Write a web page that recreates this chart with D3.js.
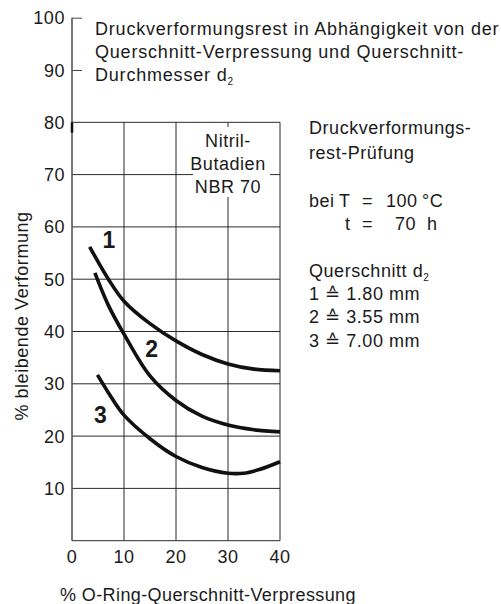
<!DOCTYPE html>
<html><head><meta charset="utf-8">
<script src="https://cdn.jsdelivr.net/npm/d3@7"></script>
<style>body{margin:0;background:#fff}svg{display:block}text{font-family:"Liberation Sans",Arial,sans-serif;fill:#1a1a1a;letter-spacing:0.55px}</style>
</head><body><svg id="c" width="501" height="604"></svg>
<script>
const xTicks = [0, 10, 20, 30, 40];
const yTicks = [10, 20, 30, 40, 50, 60, 70, 80, 90, 100];
const gridYMax = 80;
const curveNames = ["1", "2", "3"];
const curve1 = [[3.4,56.2],[7,50],[10,45.8],[15,41.5],[20,38.2],[25,35.6],[30,33.8],[35,32.8],[40,32.5]];
const curve2 = [[4.4,51.2],[7,45],[10,39.5],[15,31.5],[20,26.8],[25,23.8],[30,22.1],[35,21.2],[40,20.8]];
const curve3 = [[4.9,31.7],[7,28.3],[10,24],[15,19.5],[20,16.1],[25,14],[30,12.9],[33,12.9],[36,13.6],[40,15.1]];
const curveLabelPos = [[7.1,56],[15.3,35.1],[5.45,22.5]];
const titleLines = ["Druckverformungsrest in Abhängigkeit von der", "Querschnitt-Verpressung und Querschnitt-", "Durchmesser d"];
const materialLines = ["Nitril-", "Butadien", "NBR 70"];
const testLines = ["Druckverformungs-", "rest-Prüfung"];
const legendRows = [["1", "1.80 mm"], ["2", "3.55 mm"], ["3", "7.00 mm"]];
const xLabel = "% O-Ring-Querschnitt-Verpressung";
const yLabel = "% bleibende Verformung";

const FS = 18;
const svg = d3.select("#c");
const x = d3.scaleLinear().domain([0, 40]).range([72, 280]);
const y = d3.scaleLinear().domain([0, 100]).range([540.7, 17.7]);
const gridCol = "#2a2a2a";

// grid
const g = svg.append("g");
xTicks.slice(1).forEach(v => g.append("line").attr("x1", x(v)).attr("x2", x(v)).attr("y1", y(0)).attr("y2", y(gridYMax)).attr("stroke", gridCol).attr("stroke-width", 1));
yTicks.filter(v => v <= gridYMax).forEach(v => g.append("line").attr("x1", x(0)).attr("x2", x(40)).attr("y1", y(v)).attr("y2", y(v)).attr("stroke", gridCol).attr("stroke-width", 1));
g.append("line").attr("x1", x(0)).attr("x2", x(40)).attr("y1", y(0)).attr("y2", y(0)).attr("stroke", gridCol).attr("stroke-width", 1);

// y axis
const yAxis = d3.axisRight(y).tickValues(yTicks.filter(v => v > gridYMax)).tickSize(10).tickFormat("");
const ya = svg.append("g").attr("transform", `translate(${x(0)},0)`).call(yAxis);
ya.select(".domain").remove();
ya.selectAll(".tick line").attr("stroke", "#444").attr("stroke-width", 1);
svg.append("line").attr("x1", x(0)).attr("x2", x(0)).attr("y1", y(100)).attr("y2", y(0)).attr("stroke", "#555").attr("stroke-width", 1.6);
svg.append("line").attr("x1", x(0)).attr("x2", x(0)).attr("y1", y(80)).attr("y2", y(78)).attr("stroke", "#111").attr("stroke-width", 2.5);

// tick labels
svg.append("g").selectAll("text").data(yTicks).join("text")
  .attr("x", 65).attr("y", d => y(d) + 6.5).attr("text-anchor", "end").attr("font-size", FS).text(d => d);
svg.append("g").selectAll("text").data(xTicks).join("text")
  .attr("x", d => x(d)).attr("y", 563).attr("text-anchor", "middle").attr("font-size", FS).text(d => d);

// material box (masks grid)
svg.append("rect").attr("x", 193).attr("y", 127).attr("width", 77).attr("height", 70).attr("fill", "#fff");
svg.append("g").selectAll("text").data(materialLines).join("text")
  .attr("x", x(30)).attr("y", (d, i) => 146.5 + i * 23).attr("text-anchor", "middle").attr("font-size", FS).text(d => d);

// curves
const line = d3.line().x(d => x(d[0])).y(d => y(d[1])).curve(d3.curveCatmullRom.alpha(0.5));
[curve1, curve2, curve3].forEach(c => svg.append("path").attr("d", line(c)).attr("fill", "none").attr("stroke", "#111").attr("stroke-width", 3.6).attr("stroke-linecap", "butt"));
svg.append("g").selectAll("text").data(curveNames).join("text")
  .attr("x", (d, i) => x(curveLabelPos[i][0])).attr("y", (d, i) => y(curveLabelPos[i][1]))
  .attr("text-anchor", "middle").attr("font-size", 23).attr("font-weight", "bold").style("letter-spacing", "0").text(d => d);

// title
const tt = svg.append("g");
titleLines.forEach((t, i) => {
  const te = tt.append("text").attr("x", 95).attr("y", 35 + i * 23).attr("font-size", FS).style("letter-spacing", "0.8px").text(t);
  if (i === 2) te.append("tspan").attr("font-size", 10).attr("dy", 4).text("2");
});

// right notes
testLines.forEach((t, i) => svg.append("text").attr("x", 309).attr("y", 134 + i * 25).attr("font-size", FS).text(t));
const r1 = [["bei", 309], ["T", 339], ["=", 362], ["100", 386], ["°C", 422]];
r1.forEach(([t, xx]) => svg.append("text").attr("x", xx).attr("y", 207).attr("font-size", FS).text(t));
const r2 = [["t", 345], ["=", 362], ["70", 395], ["h", 427]];
r2.forEach(([t, xx]) => svg.append("text").attr("x", xx).attr("y", 230).attr("font-size", FS).text(t));
const q = svg.append("text").attr("x", 309).attr("y", 277).attr("font-size", FS).text("Querschnitt d");
q.append("tspan").attr("font-size", 10).attr("dy", 4).text("2");
legendRows.forEach((r, i) => svg.append("text").attr("x", 309).attr("y", 300 + i * 23.3).attr("font-size", FS).text(`${r[0]} ≙ ${r[1]}`));

// axis titles
svg.append("text").attr("transform", `translate(28,316) rotate(-90)`).attr("text-anchor", "middle").attr("font-size", FS).text(yLabel);
svg.append("text").attr("x", 60).attr("y", 601).attr("font-size", FS).style("letter-spacing", "0.4px").text(xLabel);
</script></body></html>
